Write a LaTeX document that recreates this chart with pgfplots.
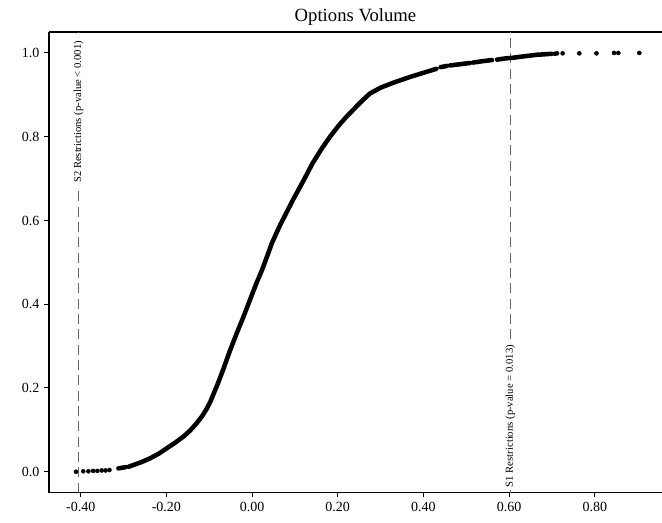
\documentclass[border=0pt]{standalone}
\usepackage{fontspec}
\setmainfont{Liberation Serif}
\usepackage{pgfplots}
\pgfplotsset{compat=1.18}

\begin{document}
\begin{tikzpicture}
\begin{axis}[
    scale only axis,
    width=459.75pt, height=345.5pt,
    xmin=-0.474, xmax=0.957,
    ymin=-0.05, ymax=1.05,
    axis x line*=box, axis y line*=left,
    axis line style={line width=0.8pt},
    xtick={-0.4,-0.2,0,0.2,0.4,0.6,0.8},
    xticklabels={-0.40,-0.20,0.00,0.20,0.40,0.60,0.80},
    ytick={0,0.2,0.4,0.6,0.8,1.0},
    yticklabels={0.0,0.2,0.4,0.6,0.8,1.0},
    tick align=outside, xtick pos=left, ytick pos=left,
    major tick length=3.6pt,
    tick style={line width=0.8pt, black},
    ticklabel style={font=\fontsize{10.5}{12.5}\selectfont},
    title={Options Volume},
    title style={font=\fontsize{14}{16}\selectfont, at={(0.5,1)}, anchor=base, yshift=2pt},
    unbounded coords=jump,
]
\coordinate (bl) at (rel axis cs:0,0);
\coordinate (tr) at (rel axis cs:1,1);

% restriction markers
\addplot[black!60, line width=1.1pt, dash pattern=on 7.5pt off 4pt] coordinates {(-0.405,-0.05) (-0.405,1.05)};
\addplot[black!60, line width=1.1pt, dash pattern=on 7.5pt off 4pt] coordinates {(0.603,-0.05) (0.603,1.05)};

% empirical distribution, dense part
\addplot[black, line width=3.4pt, line cap=round, line join=round] coordinates {
    (-0.312,0.008) (-0.295,0.011) (nan,nan)
    (-0.288,0.012) (-0.277,0.016) (-0.258,0.023) (-0.238,0.032) (-0.218,0.043)
    (-0.199,0.056) (-0.180,0.069) (-0.160,0.084) (-0.144,0.099) (-0.130,0.115)
    (-0.117,0.132) (-0.106,0.150) (-0.097,0.168) (-0.089,0.188) (-0.080,0.210)
    (-0.067,0.245) (-0.052,0.288) (-0.036,0.330) (-0.020,0.370) (-0.005,0.410)
    (0.009,0.447) (0.023,0.481) (0.035,0.514) (0.046,0.545) (0.057,0.570)
    (0.066,0.590) (0.077,0.612) (0.096,0.650) (0.120,0.695) (0.141,0.736)
    (0.163,0.772) (0.182,0.800) (0.201,0.825) (0.218,0.845) (0.236,0.864)
    (0.255,0.884) (0.275,0.903) (0.300,0.917) (0.330,0.929) (0.370,0.943)
    (0.408,0.955) (0.430,0.962) (nan,nan)
    (0.440,0.966) (0.455,0.969) (nan,nan)
    (0.462,0.970) (0.485,0.973) (0.509,0.976) (nan,nan)
    (0.516,0.977) (0.536,0.980) (0.560,0.983) (nan,nan)
    (0.572,0.984) (0.592,0.987) (0.605,0.988) (0.628,0.991) (0.668,0.996)
    (0.672,0.996) (0.700,0.998)
};

% empirical distribution, sparse tails
\addplot[only marks, mark=*, mark size=1.5pt, black] coordinates {
    (-0.411,0.000) (-0.394,0.001) (-0.382,0.001) (-0.371,0.002) (-0.361,0.002)
    (-0.351,0.003) (-0.342,0.003) (-0.333,0.004)
    (0.707,0.998) (0.712,0.999) (0.725,0.999) (0.764,0.999) (0.804,0.999)
    (0.845,1.000) (0.855,1.000) (0.904,1.000)
};

\node[rotate=90, anchor=east, fill=white, inner sep=2.4pt, font=\fontsize{8}{9.6}\selectfont]
    at (axis cs:-0.405,1.037) {S2 Restrictions (p-value < 0.001)};
\node[rotate=90, anchor=west, fill=white, inner sep=2.4pt, font=\fontsize{8}{9.6}\selectfont]
    at (axis cs:0.603,-0.045) {S1 Restrictions (p-value = 0.013)};
\end{axis}
\pgfresetboundingbox
\path ([shift={(-36.75pt,-22.7pt)}]bl) rectangle ([shift={(0pt,24pt)}]tr);
\end{tikzpicture}
\end{document}
